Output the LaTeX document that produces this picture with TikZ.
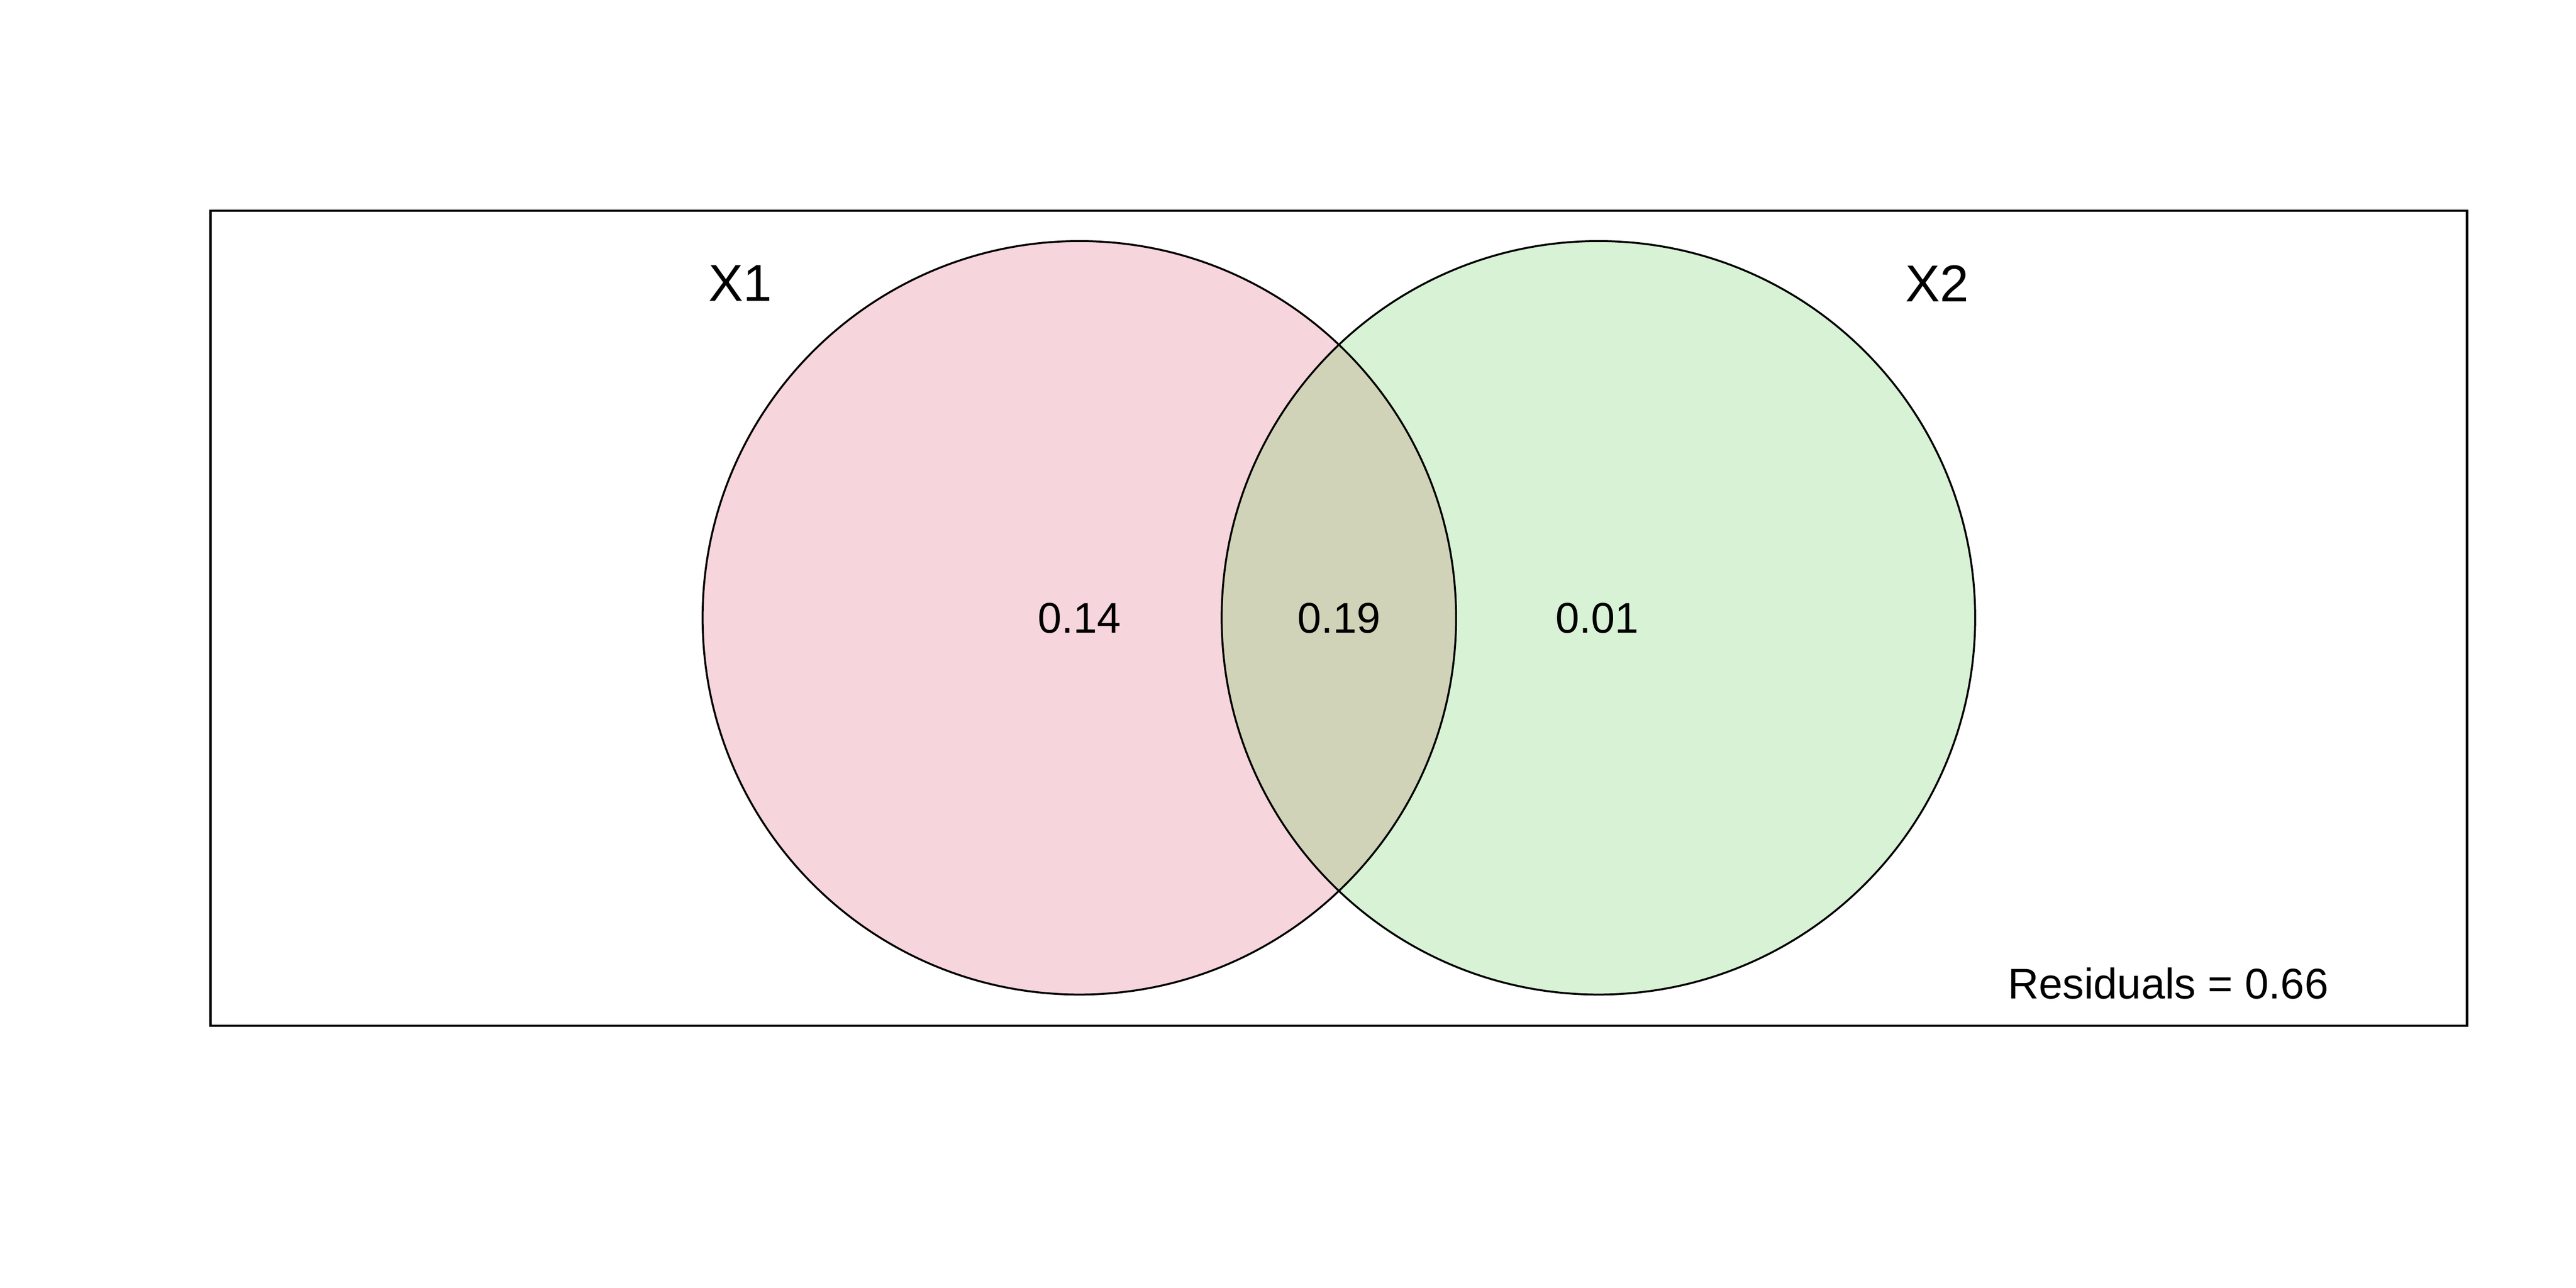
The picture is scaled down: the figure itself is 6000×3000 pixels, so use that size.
\documentclass[tikz,border=0pt]{standalone}
\usepackage{fontspec}
\setmainfont{Liberation Sans}
\definecolor{pinkfill}{HTML}{F7D5DC}
\definecolor{greenfill}{HTML}{D8F2D5}
\definecolor{lensfill}{HTML}{D1D3B8}
\tikzset{
  frameline/.style={line width=0.055cm, black},
  setline/.style={line width=0.045cm, black},
  valuelabel/.style={inner sep=0pt, font=\fontsize{28.4}{30}\selectfont},
  setlabel/.style={inner sep=0pt, font=\fontsize{34.4}{36}\selectfont}
}
\begin{document}
\begin{tikzpicture}[x=0.01cm,y=-0.01cm]
\useasboundingbox (0,0) rectangle (6000,3000);
\fill[white] (0,0) rectangle (6000,3000);
\coordinate (c1) at (2514,1439);
\coordinate (c2) at (3723,1439);
\fill[pinkfill] (c1) circle[radius=8.77cm];
\fill[greenfill] (c2) circle[radius=8.77cm];
\begin{scope}
  \clip (c1) circle[radius=8.77cm];
  \fill[lensfill] (c2) circle[radius=8.77cm];
\end{scope}
\draw[setline] (c1) circle[radius=8.77cm];
\draw[setline] (c2) circle[radius=8.77cm];
\draw[frameline] (490,491) rectangle (5746,2389);
\node[setlabel] (x1) at (1724,660) {X1};
\node[setlabel] (x2) at (4512,660) {X2};
\node[valuelabel] (v1) at (2514,1440) {0.14};
\node[valuelabel] (v12) at (3119,1440) {0.19};
\node[valuelabel] (v2) at (3720,1440) {0.01};
\node[valuelabel] (res) at (5050,2291) {Residuals = 0.66};
\end{tikzpicture}
\end{document}
